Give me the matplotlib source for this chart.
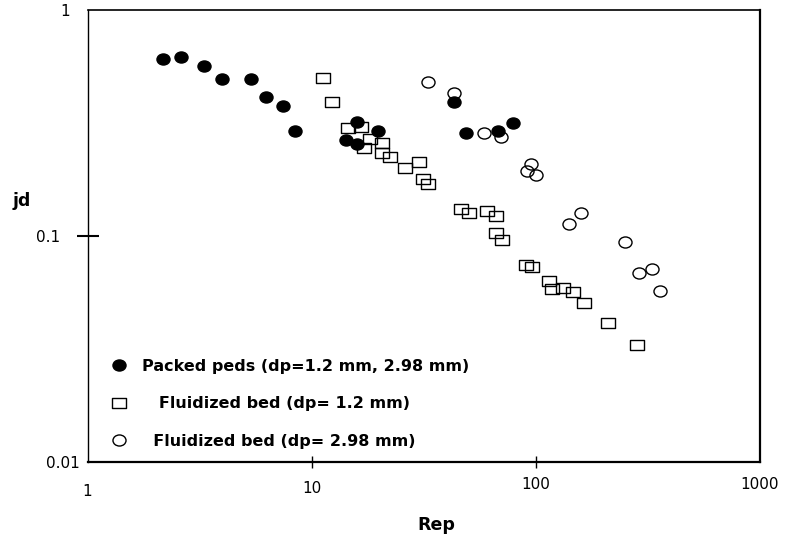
import matplotlib
matplotlib.use("Agg")
import matplotlib.pyplot as plt
from matplotlib.path import Path
from matplotlib.transforms import Affine2D

# ---- data ----
packed_re = [2.17, 2.61, 3.31, 3.98, 5.36, 6.25, 7.45, 8.43, 15.9, 19.8, 14.2, 15.9,
             43.1, 48.8, 67.8, 79.1]
packed_jd = [0.607, 0.620, 0.565, 0.495, 0.495, 0.412, 0.376, 0.291, 0.319, 0.291,
             0.266, 0.255, 0.392, 0.285, 0.291, 0.316]

fb12_re = [11.2, 12.3, 14.5, 16.6, 18.2, 17.1, 20.6, 20.6, 22.3, 26.1, 30.1, 31.4, 33.0,
           46.3, 50.3, 60.5, 66.4, 66.4, 70.6, 90.3, 96.1, 114.4, 118.0, 132.1, 146.4,
           163.9, 209.7, 282.5]
fb12_jd = [0.500, 0.392, 0.300, 0.303, 0.268, 0.245, 0.258, 0.233, 0.223, 0.200, 0.212,
           0.179, 0.170, 0.131, 0.126, 0.129, 0.122, 0.103, 0.0958, 0.0743, 0.0728,
           0.0631, 0.0582, 0.0588, 0.0564, 0.0504, 0.0411, 0.0329]

fb298_re = [33.0, 43.1, 58.7, 69.9, 95.1, 91.3, 100.1, 140.5, 158.9, 249.7, 288.4,
            329.5, 357.7]
fb298_jd = [0.480, 0.429, 0.285, 0.274, 0.208, 0.194, 0.186, 0.113, 0.126, 0.0939,
            0.0685, 0.0713, 0.0570]

labels = ["Packed peds (dp=1.2 mm, 2.98 mm)",
          "   Fluidized bed (dp= 1.2 mm)",
          "  Fluidized bed (dp= 2.98 mm)"]

x_ticks = [1, 10, 100, 1000]
x_ticklabels = ["1", "10", "100", "1000"]
y_ticks = [0.01, 0.1, 1]
y_ticklabels = ["0.01", "0.1", "1"]

# ---- marker shapes (slightly wide, as in the reference) ----
ellipse = Path.unit_circle().transformed(Affine2D().scale(1.18, 1.0))
rect = Path([(-1.27, -1), (1.27, -1), (1.27, 1), (-1.27, 1), (-1.27, -1)],
            [Path.MOVETO, Path.LINETO, Path.LINETO, Path.LINETO, Path.CLOSEPOLY])

fig = plt.figure(figsize=(7.89, 5.34), dpi=100)
ax = fig.add_axes([0.1109, 0.1354, 0.8523, 0.8459])
ax.set_xscale("log")
ax.set_yscale("log")

h2, = ax.plot(fb12_re, fb12_jd, linestyle="none", marker=rect, markersize=10,
              markerfacecolor="none", markeredgecolor="black", markeredgewidth=1.0,
              zorder=3)
h3, = ax.plot(fb298_re, fb298_jd, linestyle="none", marker=ellipse, markersize=9.4,
              markerfacecolor="none", markeredgecolor="black", markeredgewidth=1.0,
              zorder=4)
h1, = ax.plot(packed_re, packed_jd, linestyle="none", marker=ellipse, markersize=9.4,
              markerfacecolor="black", markeredgecolor="black", markeredgewidth=1.0,
              zorder=5)

ax.set_xlim(1, 1000)
ax.set_ylim(0.01, 1)

ax.set_xticks(x_ticks)
ax.set_xticklabels(x_ticklabels)
ax.set_yticks(y_ticks)
ax.set_yticklabels(y_ticklabels)
ax.minorticks_off()

ax.tick_params(axis="x", direction="inout", length=9, width=1.0, labelsize=11,
               colors="black")
ax.tick_params(axis="y", direction="inout", length=16, width=1.5, labelsize=11,
               colors="black")

xt = ax.xaxis.get_major_ticks()
for i, pad in enumerate([11.5, 9.5, 6.5, 6.5]):
    xt[i].set_pad(pad)
xt[0].tick1line.set_visible(False)
xt[3].tick1line.set_visible(False)

yt = ax.yaxis.get_major_ticks()
for i, pad in enumerate([-2.6, 11.8, 4.6]):
    yt[i].set_pad(pad)
yt[0].tick1line.set_visible(False)
yt[2].tick1line.set_visible(False)

for side, lw in [("left", 1.0), ("top", 1.2), ("right", 1.6), ("bottom", 1.6)]:
    ax.spines[side].set_linewidth(lw)
    ax.spines[side].set_color("black")

ax.set_xlabel("Rep", fontsize=12.5, fontweight="bold", va="center")
ax.xaxis.set_label_coords(0.518, -0.140)
ax.set_ylabel("jd", fontsize=12.5, fontweight="bold", rotation=0,
              ha="center", va="center")
ax.yaxis.set_label_coords(-0.0974, 0.577)

leg = ax.legend([h1, h2, h3], labels, loc="upper left",
                bbox_to_anchor=(0.0355, 0.228), frameon=False, borderpad=0,
                borderaxespad=0, handlelength=1.0, handletextpad=0.9,
                labelspacing=1.42, prop={"size": 11.5, "weight": "bold"})

fig.savefig("out.png", dpi=100)
